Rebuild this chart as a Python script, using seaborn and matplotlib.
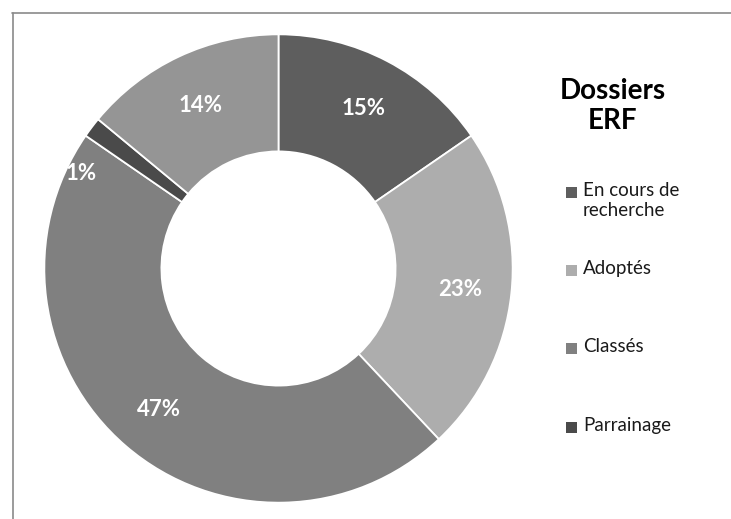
import numpy as np
import matplotlib
matplotlib.use("Agg")
import matplotlib.pyplot as plt
from matplotlib.lines import Line2D
from matplotlib.patches import Rectangle
import seaborn as sns

sns.set_theme(style="white")
plt.rcParams['font.family'] = ['Lato', 'DejaVu Sans']

# ---- data ----
categories = ["En cours de recherche", "Adoptés", "Classés", "Parrainage", "Autres"]
values = [15.4, 22.6, 46.6, 1.4, 14.0]
legend_labels = ["En cours de\nrecherche", "Adoptés", "Classés", "Parrainage"]
title = "Dossiers\nERF"

colors = ["#5e5e5e", "#adadad", "#808080", "#4a4a4a", "#959595"]

W, H = 731, 519
fig = plt.figure(figsize=(W / 100, H / 100), dpi=100)
fig.patch.set_facecolor("white")

# pie axes
cx, cy, R = 278.5, 268.5, 236.5
ax = fig.add_axes([(cx - R) / W, (H - cy - R) / H, 2 * R / W, 2 * R / H])
wedges, texts, autotexts = ax.pie(
    values, colors=colors, startangle=90, counterclock=False, radius=1,
    autopct='%.0f%%', pctdistance=0.78,
    wedgeprops=dict(width=0.5, edgecolor="white", linewidth=1.3),
    textprops=dict(color="white", fontsize=16, fontweight="bold"))
for t in autotexts:
    t.set_verticalalignment("center_baseline")
ax.set_xlim(-1.01, 1.01)
ax.set_ylim(-1.01, 1.01)
ax.set_aspect("equal")
ax.axis("off")

# move label of tiny slice outside like Excel
for w, t, v in zip(wedges, autotexts, values):
    if v < 5:
        ang = np.deg2rad((w.theta1 + w.theta2) / 2 + 11)
        t.set_position((0.94 * np.cos(ang), 0.94 * np.sin(ang)))

# frame lines (chart area border)
fig.add_artist(Line2D([12 / W, 1], [1 - 12.5 / H, 1 - 12.5 / H], color="#8a8a8a", lw=1.2,
                      transform=fig.transFigure))
fig.add_artist(Line2D([12.5 / W, 12.5 / W], [0, 1 - 12.5 / H], color="#8a8a8a", lw=1.2,
                      transform=fig.transFigure))

# title
fig.text(613 / W, 1 - 106 / H, title, ha="center", va="center", fontsize=20,
         fontweight="bold", color="black", linespacing=1.2)

# legend
leg_y = [192, 270, 348, 427]
for lab, col, y in zip(legend_labels, colors[:4], leg_y):
    fig.add_artist(Rectangle(((566) / W, 1 - (y + 5.5) / H), 11 / W, 11 / H,
                             facecolor=col, edgecolor="none", transform=fig.transFigure))
    fig.text(583 / W, 1 - (y - 10) / H, lab, ha="left", va="top", fontsize=13.5,
             color="#1a1a1a", linespacing=1.2)

fig.savefig("out.png", dpi=100, facecolor="white")
